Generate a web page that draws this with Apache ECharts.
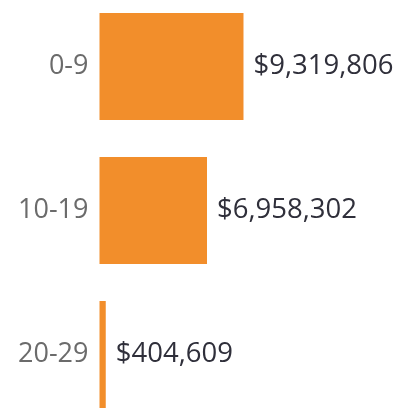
<!DOCTYPE html>
<html>
<head>
<meta charset="utf-8">
<script src="https://cdn.jsdelivr.net/npm/echarts@6/dist/echarts.min.js"></script>
<style>
  html, body { margin: 0; padding: 0; background: #fff; }
  #chart { width: 399px; height: 408px; }
</style>
</head>
<body>
<div id="chart"></div>
<script>
// Age bands and their totals
const ageBands = ['0-9', '10-19', '20-29'];
const totals = [9319806, 6958302, 404609];

function money(v) {
  return '$' + v.toLocaleString('en-US');
}

const chart = echarts.init(document.getElementById('chart'));
chart.setOption({
  animation: false,
  grid: { left: 99.5, top: -5.5, width: 154.5, height: 432, outerBoundsMode: 'none', containLabel: false },
  xAxis: {
    type: 'value', min: 0, max: 10000000,
    show: false
  },
  yAxis: {
    type: 'category',
    data: ageBands,
    inverse: true,
    axisLine: { show: false },
    axisTick: { show: false },
    splitLine: { show: false },
    axisLabel: {
      color: '#6b6b6b',
      fontFamily: 'Open Sans',
      fontSize: 27,
      margin: 11,
      padding: [5, 0, 0, 0]
    }
  },
  series: [{
    type: 'bar',
    data: totals,
    barWidth: 107,
    itemStyle: { color: '#F28E2B' },
    label: {
      show: true,
      position: 'right',
      distance: 10,
      color: '#2f2f3a',
      fontFamily: 'Open Sans',
      fontSize: 27.5,
      formatter: p => money(p.value)
    }
  }]
});
</script>
</body>
</html>
